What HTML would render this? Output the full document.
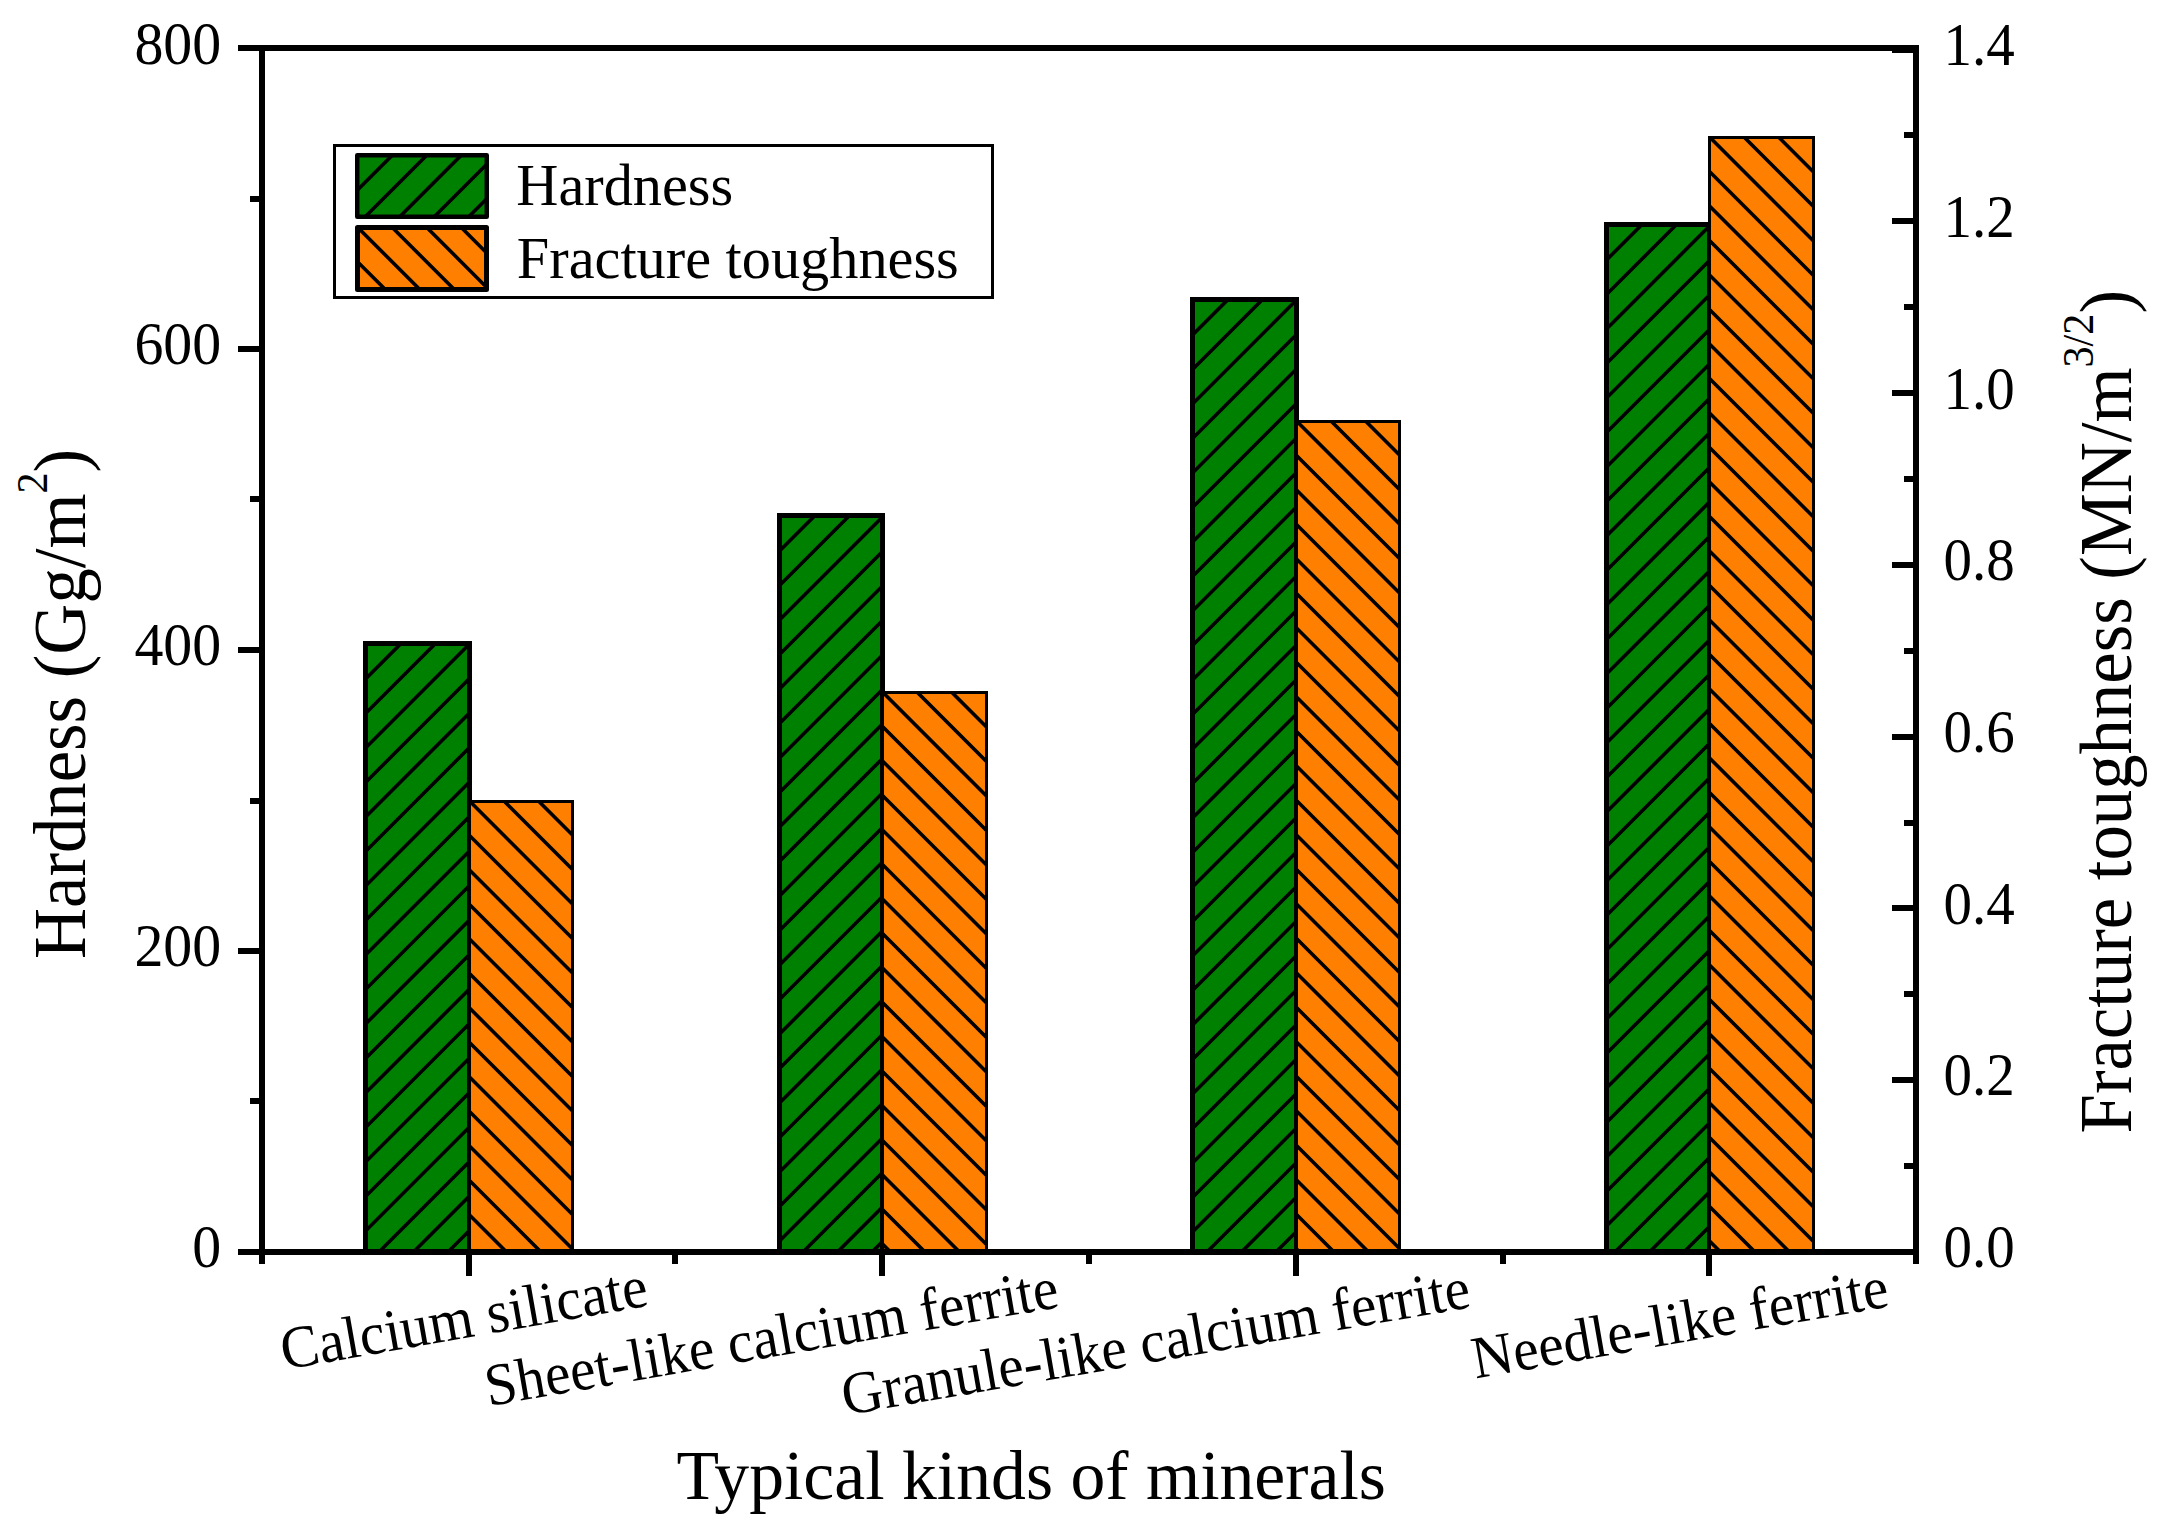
<!DOCTYPE html>
<html lang="en"><head><meta charset="utf-8"><title>Hardness and fracture toughness of typical minerals</title>
<style>html,body{margin:0;padding:0;background:#fff;}body{width:2173px;height:1532px;overflow:hidden;}svg{display:block;}text{font-family:"Liberation Serif",serif;fill:#000;}</style>
</head><body>
<svg width="2173" height="1532" viewBox="0 0 2173 1532">
<rect x="0" y="0" width="2173" height="1532" fill="#fff"/>
<g id="bars">
<clipPath id="c1"><rect x="365.50" y="643.50" width="104.00" height="608.50"/></clipPath>
<rect x="365.50" y="643.50" width="104.00" height="608.50" fill="#008000"/>
<path d="M371.50 638.50L360.50 649.50M406.00 638.50L360.50 684.00M440.50 638.50L360.50 718.50M475.00 638.50L360.50 753.00M509.50 638.50L360.50 787.50M544.00 638.50L360.50 822.00M578.50 638.50L360.50 856.50M613.00 638.50L360.50 891.00M647.50 638.50L360.50 925.50M682.00 638.50L360.50 960.00M716.50 638.50L360.50 994.50M751.00 638.50L360.50 1029.00M785.50 638.50L360.50 1063.50M820.00 638.50L360.50 1098.00M854.50 638.50L360.50 1132.50M889.00 638.50L360.50 1167.00M923.50 638.50L360.50 1201.50M958.00 638.50L360.50 1236.00M992.50 638.50L360.50 1270.50M1027.00 638.50L360.50 1305.00M1061.50 638.50L360.50 1339.50M1096.00 638.50L360.50 1374.00M1130.50 638.50L360.50 1408.50" stroke="#000" stroke-width="3.60" fill="none" clip-path="url(#c1)"/>
<rect x="365.50" y="643.50" width="104.00" height="608.50" fill="none" stroke="#000" stroke-width="5.00"/>
<clipPath id="c2"><rect x="779.50" y="515.50" width="103.00" height="736.50"/></clipPath>
<rect x="779.50" y="515.50" width="103.00" height="736.50" fill="#008000"/>
<path d="M785.50 510.50L774.50 521.50M820.00 510.50L774.50 556.00M854.50 510.50L774.50 590.50M889.00 510.50L774.50 625.00M923.50 510.50L774.50 659.50M958.00 510.50L774.50 694.00M992.50 510.50L774.50 728.50M1027.00 510.50L774.50 763.00M1061.50 510.50L774.50 797.50M1096.00 510.50L774.50 832.00M1130.50 510.50L774.50 866.50M1165.00 510.50L774.50 901.00M1199.50 510.50L774.50 935.50M1234.00 510.50L774.50 970.00M1268.50 510.50L774.50 1004.50M1303.00 510.50L774.50 1039.00M1337.50 510.50L774.50 1073.50M1372.00 510.50L774.50 1108.00M1406.50 510.50L774.50 1142.50M1441.00 510.50L774.50 1177.00M1475.50 510.50L774.50 1211.50M1510.00 510.50L774.50 1246.00M1544.50 510.50L774.50 1280.50M1579.00 510.50L774.50 1315.00M1613.50 510.50L774.50 1349.50M1648.00 510.50L774.50 1384.00M1682.50 510.50L774.50 1418.50" stroke="#000" stroke-width="3.60" fill="none" clip-path="url(#c2)"/>
<rect x="779.50" y="515.50" width="103.00" height="736.50" fill="none" stroke="#000" stroke-width="5.00"/>
<clipPath id="c3"><rect x="1192.50" y="299.50" width="104.00" height="952.50"/></clipPath>
<rect x="1192.50" y="299.50" width="104.00" height="952.50" fill="#008000"/>
<path d="M1198.50 294.50L1187.50 305.50M1233.00 294.50L1187.50 340.00M1267.50 294.50L1187.50 374.50M1302.00 294.50L1187.50 409.00M1336.50 294.50L1187.50 443.50M1371.00 294.50L1187.50 478.00M1405.50 294.50L1187.50 512.50M1440.00 294.50L1187.50 547.00M1474.50 294.50L1187.50 581.50M1509.00 294.50L1187.50 616.00M1543.50 294.50L1187.50 650.50M1578.00 294.50L1187.50 685.00M1612.50 294.50L1187.50 719.50M1647.00 294.50L1187.50 754.00M1681.50 294.50L1187.50 788.50M1716.00 294.50L1187.50 823.00M1750.50 294.50L1187.50 857.50M1785.00 294.50L1187.50 892.00M1819.50 294.50L1187.50 926.50M1854.00 294.50L1187.50 961.00M1888.50 294.50L1187.50 995.50M1923.00 294.50L1187.50 1030.00M1957.50 294.50L1187.50 1064.50M1992.00 294.50L1187.50 1099.00M2026.50 294.50L1187.50 1133.50M2061.00 294.50L1187.50 1168.00M2095.50 294.50L1187.50 1202.50M2130.00 294.50L1187.50 1237.00M2164.50 294.50L1187.50 1271.50M2199.00 294.50L1187.50 1306.00M2233.50 294.50L1187.50 1340.50M2268.00 294.50L1187.50 1375.00M2302.50 294.50L1187.50 1409.50" stroke="#000" stroke-width="3.60" fill="none" clip-path="url(#c3)"/>
<rect x="1192.50" y="299.50" width="104.00" height="952.50" fill="none" stroke="#000" stroke-width="5.00"/>
<clipPath id="c4"><rect x="1606.50" y="224.50" width="103.00" height="1027.50"/></clipPath>
<rect x="1606.50" y="224.50" width="103.00" height="1027.50" fill="#008000"/>
<path d="M1612.50 219.50L1601.50 230.50M1647.00 219.50L1601.50 265.00M1681.50 219.50L1601.50 299.50M1716.00 219.50L1601.50 334.00M1750.50 219.50L1601.50 368.50M1785.00 219.50L1601.50 403.00M1819.50 219.50L1601.50 437.50M1854.00 219.50L1601.50 472.00M1888.50 219.50L1601.50 506.50M1923.00 219.50L1601.50 541.00M1957.50 219.50L1601.50 575.50M1992.00 219.50L1601.50 610.00M2026.50 219.50L1601.50 644.50M2061.00 219.50L1601.50 679.00M2095.50 219.50L1601.50 713.50M2130.00 219.50L1601.50 748.00M2164.50 219.50L1601.50 782.50M2199.00 219.50L1601.50 817.00M2233.50 219.50L1601.50 851.50M2268.00 219.50L1601.50 886.00M2302.50 219.50L1601.50 920.50M2337.00 219.50L1601.50 955.00M2371.50 219.50L1601.50 989.50M2406.00 219.50L1601.50 1024.00M2440.50 219.50L1601.50 1058.50M2475.00 219.50L1601.50 1093.00M2509.50 219.50L1601.50 1127.50M2544.00 219.50L1601.50 1162.00M2578.50 219.50L1601.50 1196.50M2613.00 219.50L1601.50 1231.00M2647.50 219.50L1601.50 1265.50M2682.00 219.50L1601.50 1300.00M2716.50 219.50L1601.50 1334.50M2751.00 219.50L1601.50 1369.00M2785.50 219.50L1601.50 1403.50" stroke="#000" stroke-width="3.60" fill="none" clip-path="url(#c4)"/>
<rect x="1606.50" y="224.50" width="103.00" height="1027.50" fill="none" stroke="#000" stroke-width="5.00"/>
<clipPath id="c5"><rect x="469.50" y="801.50" width="103.00" height="450.50"/></clipPath>
<rect x="469.50" y="801.50" width="103.00" height="450.50" fill="#FF8000"/>
<path d="M-52.50 796.50L408.00 1257.00M-18.00 796.50L442.50 1257.00M16.50 796.50L477.00 1257.00M51.00 796.50L511.50 1257.00M85.50 796.50L546.00 1257.00M120.00 796.50L580.50 1257.00M154.50 796.50L615.00 1257.00M189.00 796.50L649.50 1257.00M223.50 796.50L684.00 1257.00M258.00 796.50L718.50 1257.00M292.50 796.50L753.00 1257.00M327.00 796.50L787.50 1257.00M361.50 796.50L822.00 1257.00M396.00 796.50L856.50 1257.00M430.50 796.50L891.00 1257.00M465.00 796.50L925.50 1257.00M499.50 796.50L960.00 1257.00M534.00 796.50L994.50 1257.00M568.50 796.50L1029.00 1257.00M603.00 796.50L1063.50 1257.00" stroke="#000" stroke-width="3.60" fill="none" clip-path="url(#c5)"/>
<rect x="469.50" y="801.50" width="103.00" height="450.50" fill="none" stroke="#000" stroke-width="3.00"/>
<clipPath id="c6"><rect x="882.50" y="692.50" width="104.00" height="559.50"/></clipPath>
<rect x="882.50" y="692.50" width="104.00" height="559.50" fill="#FF8000"/>
<path d="M257.00 687.50L826.50 1257.00M291.50 687.50L861.00 1257.00M326.00 687.50L895.50 1257.00M360.50 687.50L930.00 1257.00M395.00 687.50L964.50 1257.00M429.50 687.50L999.00 1257.00M464.00 687.50L1033.50 1257.00M498.50 687.50L1068.00 1257.00M533.00 687.50L1102.50 1257.00M567.50 687.50L1137.00 1257.00M602.00 687.50L1171.50 1257.00M636.50 687.50L1206.00 1257.00M671.00 687.50L1240.50 1257.00M705.50 687.50L1275.00 1257.00M740.00 687.50L1309.50 1257.00M774.50 687.50L1344.00 1257.00M809.00 687.50L1378.50 1257.00M843.50 687.50L1413.00 1257.00M878.00 687.50L1447.50 1257.00M912.50 687.50L1482.00 1257.00M947.00 687.50L1516.50 1257.00M981.50 687.50L1551.00 1257.00M1016.00 687.50L1585.50 1257.00M1050.50 687.50L1620.00 1257.00" stroke="#000" stroke-width="3.60" fill="none" clip-path="url(#c6)"/>
<rect x="882.50" y="692.50" width="104.00" height="559.50" fill="none" stroke="#000" stroke-width="3.00"/>
<clipPath id="c7"><rect x="1296.50" y="421.50" width="103.00" height="830.50"/></clipPath>
<rect x="1296.50" y="421.50" width="103.00" height="830.50" fill="#FF8000"/>
<path d="M395.00 416.50L1235.50 1257.00M429.50 416.50L1270.00 1257.00M464.00 416.50L1304.50 1257.00M498.50 416.50L1339.00 1257.00M533.00 416.50L1373.50 1257.00M567.50 416.50L1408.00 1257.00M602.00 416.50L1442.50 1257.00M636.50 416.50L1477.00 1257.00M671.00 416.50L1511.50 1257.00M705.50 416.50L1546.00 1257.00M740.00 416.50L1580.50 1257.00M774.50 416.50L1615.00 1257.00M809.00 416.50L1649.50 1257.00M843.50 416.50L1684.00 1257.00M878.00 416.50L1718.50 1257.00M912.50 416.50L1753.00 1257.00M947.00 416.50L1787.50 1257.00M981.50 416.50L1822.00 1257.00M1016.00 416.50L1856.50 1257.00M1050.50 416.50L1891.00 1257.00M1085.00 416.50L1925.50 1257.00M1119.50 416.50L1960.00 1257.00M1154.00 416.50L1994.50 1257.00M1188.50 416.50L2029.00 1257.00M1223.00 416.50L2063.50 1257.00M1257.50 416.50L2098.00 1257.00M1292.00 416.50L2132.50 1257.00M1326.50 416.50L2167.00 1257.00M1361.00 416.50L2201.50 1257.00M1395.50 416.50L2236.00 1257.00M1430.00 416.50L2270.50 1257.00" stroke="#000" stroke-width="3.60" fill="none" clip-path="url(#c7)"/>
<rect x="1296.50" y="421.50" width="103.00" height="830.50" fill="none" stroke="#000" stroke-width="3.00"/>
<clipPath id="c8"><rect x="1709.50" y="137.50" width="104.00" height="1114.50"/></clipPath>
<rect x="1709.50" y="137.50" width="104.00" height="1114.50" fill="#FF8000"/>
<path d="M532.00 132.50L1656.50 1257.00M566.50 132.50L1691.00 1257.00M601.00 132.50L1725.50 1257.00M635.50 132.50L1760.00 1257.00M670.00 132.50L1794.50 1257.00M704.50 132.50L1829.00 1257.00M739.00 132.50L1863.50 1257.00M773.50 132.50L1898.00 1257.00M808.00 132.50L1932.50 1257.00M842.50 132.50L1967.00 1257.00M877.00 132.50L2001.50 1257.00M911.50 132.50L2036.00 1257.00M946.00 132.50L2070.50 1257.00M980.50 132.50L2105.00 1257.00M1015.00 132.50L2139.50 1257.00M1049.50 132.50L2174.00 1257.00M1084.00 132.50L2208.50 1257.00M1118.50 132.50L2243.00 1257.00M1153.00 132.50L2277.50 1257.00M1187.50 132.50L2312.00 1257.00M1222.00 132.50L2346.50 1257.00M1256.50 132.50L2381.00 1257.00M1291.00 132.50L2415.50 1257.00M1325.50 132.50L2450.00 1257.00M1360.00 132.50L2484.50 1257.00M1394.50 132.50L2519.00 1257.00M1429.00 132.50L2553.50 1257.00M1463.50 132.50L2588.00 1257.00M1498.00 132.50L2622.50 1257.00M1532.50 132.50L2657.00 1257.00M1567.00 132.50L2691.50 1257.00M1601.50 132.50L2726.00 1257.00M1636.00 132.50L2760.50 1257.00M1670.50 132.50L2795.00 1257.00M1705.00 132.50L2829.50 1257.00M1739.50 132.50L2864.00 1257.00M1774.00 132.50L2898.50 1257.00M1808.50 132.50L2933.00 1257.00M1843.00 132.50L2967.50 1257.00M1877.50 132.50L3002.00 1257.00" stroke="#000" stroke-width="3.60" fill="none" clip-path="url(#c8)"/>
<rect x="1709.50" y="137.50" width="104.00" height="1114.50" fill="none" stroke="#000" stroke-width="3.00"/>
</g>
<g id="axes" fill="#000" shape-rendering="crispEdges">
<rect x="238" y="45" width="1681" height="6"/>
<rect x="238" y="1249" width="1681" height="6"/>
<rect x="259" y="45" width="6" height="1219"/>
<rect x="1913" y="45" width="6" height="1219"/>
<rect x="238" y="1249" width="22" height="6"/>
<rect x="238" y="948" width="22" height="6"/>
<rect x="238" y="647" width="22" height="6"/>
<rect x="238" y="346" width="22" height="6"/>
<rect x="238" y="45" width="22" height="6"/>
<rect x="250" y="1098" width="10" height="6"/>
<rect x="250" y="798" width="10" height="6"/>
<rect x="250" y="496" width="10" height="6"/>
<rect x="250" y="196" width="10" height="6"/>
<rect x="1892" y="1249" width="22" height="6"/>
<rect x="1904" y="1163" width="10" height="6"/>
<rect x="1892" y="1077" width="22" height="6"/>
<rect x="1904" y="991" width="10" height="6"/>
<rect x="1892" y="905" width="22" height="6"/>
<rect x="1904" y="820" width="10" height="6"/>
<rect x="1892" y="734" width="22" height="6"/>
<rect x="1904" y="648" width="10" height="6"/>
<rect x="1892" y="562" width="22" height="6"/>
<rect x="1904" y="476" width="10" height="6"/>
<rect x="1892" y="390" width="22" height="6"/>
<rect x="1904" y="304" width="10" height="6"/>
<rect x="1892" y="218" width="22" height="6"/>
<rect x="1904" y="132" width="10" height="6"/>
<rect x="1892" y="47" width="22" height="6"/>
<rect x="466" y="1252" width="6" height="24"/>
<rect x="879" y="1252" width="6" height="24"/>
<rect x="1293" y="1252" width="6" height="24"/>
<rect x="1706" y="1252" width="6" height="24"/>
<rect x="672" y="1252" width="6" height="12"/>
<rect x="1086" y="1252" width="6" height="12"/>
<rect x="1500" y="1252" width="6" height="12"/>
</g>
<g id="ylabels" font-size="60.6" text-anchor="end">
<text transform="translate(221.2 1266.9) scale(0.955 1)">0</text>
<text transform="translate(221.2 966.1) scale(0.955 1)">200</text>
<text transform="translate(221.2 665.2) scale(0.955 1)">400</text>
<text transform="translate(221.2 364.4) scale(0.955 1)">600</text>
<text transform="translate(221.2 63.5) scale(0.955 1)">800</text>
</g>
<g id="y2labels" font-size="60.6" text-anchor="start">
<text transform="translate(1943.6 1266.8) scale(0.941 1)">0.0</text>
<text transform="translate(1943.6 1095.2) scale(0.941 1)">0.2</text>
<text transform="translate(1943.6 923.5) scale(0.941 1)">0.4</text>
<text transform="translate(1943.6 751.9) scale(0.941 1)">0.6</text>
<text transform="translate(1943.6 580.2) scale(0.941 1)">0.8</text>
<text transform="translate(1943.6 408.6) scale(0.941 1)">1.0</text>
<text transform="translate(1943.6 237.0) scale(0.941 1)">1.2</text>
<text transform="translate(1943.6 65.3) scale(0.941 1)">1.4</text>
</g>
<g id="xlabels" font-size="60" text-anchor="start">
<text transform="translate(284.3 1369.8) rotate(-10.00) scale(0.957 1)">Calcium silicate</text>
<text transform="translate(488.4 1406.2) rotate(-9.85) scale(0.953 1)">Sheet-like calcium ferrite</text>
<text transform="translate(845.2 1415.3) rotate(-9.80) scale(0.951 1)">Granule-like calcium ferrite</text>
<text transform="translate(1475.5 1378.5) rotate(-9.90) scale(0.955 1)">Needle-like ferrite</text>
</g>
<text transform="translate(676.6 1498.9) scale(0.993 1)" font-size="70.2">Typical kinds of minerals</text>
<text transform="translate(85.1 959.0) rotate(-90) scale(0.961 1)" font-size="73.6">Hardness (Gg/m<tspan font-size="44" dy="-38.2">2</tspan><tspan dy="38.2">)</tspan></text>
<text transform="translate(2131.2 1133.4) rotate(-90) scale(0.961 1)" font-size="73.6">Fracture toughness (MN/m<tspan font-size="44" dy="-38.2">3/2</tspan><tspan dy="38.2">)</tspan></text>
<g id="legend">
<rect x="334.5" y="145.5" width="658" height="152" fill="#fff" stroke="#000" stroke-width="3" shape-rendering="crispEdges"/>
<clipPath id="c9"><rect x="357.25" y="155.25" width="129.50" height="61.50"/></clipPath>
<rect x="357.25" y="155.25" width="129.50" height="61.50" fill="#008000"/>
<path d="M362.75 150.25L352.25 160.75M397.25 150.25L352.25 195.25M431.75 150.25L352.25 229.75M466.25 150.25L352.25 264.25M500.75 150.25L352.25 298.75M535.25 150.25L352.25 333.25M569.75 150.25L352.25 367.75M604.25 150.25L352.25 402.25" stroke="#000" stroke-width="3.60" fill="none" clip-path="url(#c9)"/>
<rect x="357.25" y="155.25" width="129.50" height="61.50" fill="none" stroke="#000" stroke-width="4.50" stroke-linejoin="round"/>
<clipPath id="c10"><rect x="357.50" y="227.50" width="129.00" height="62.00"/></clipPath>
<rect x="357.50" y="227.50" width="129.00" height="62.00" fill="#FF8000"/>
<path d="M249.30 222.50L321.30 294.50M283.80 222.50L355.80 294.50M318.30 222.50L390.30 294.50M352.80 222.50L424.80 294.50M387.30 222.50L459.30 294.50M421.80 222.50L493.80 294.50M456.30 222.50L528.30 294.50M490.80 222.50L562.80 294.50M525.30 222.50L597.30 294.50" stroke="#000" stroke-width="3.60" fill="none" clip-path="url(#c10)"/>
<rect x="357.50" y="227.50" width="129.00" height="62.00" fill="none" stroke="#000" stroke-width="5.00" stroke-linejoin="round"/>
<text x="516.3" y="204.8" font-size="58.3">Hardness</text>
<text x="516.8" y="278.2" font-size="58.3">Fracture toughness</text>
</g>
</svg></body></html>
